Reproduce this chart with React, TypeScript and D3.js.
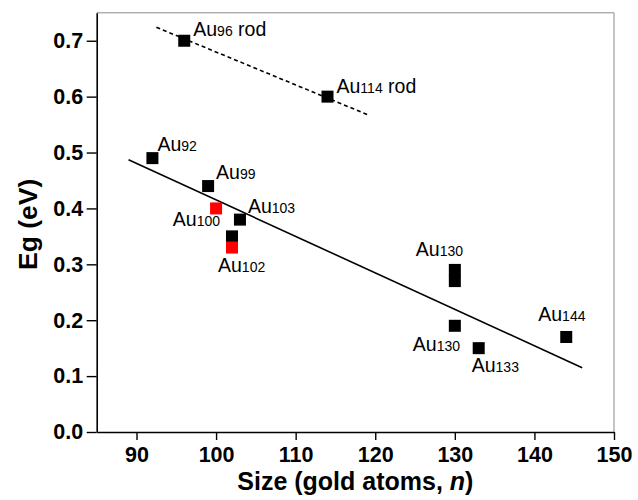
import * as d3 from 'd3';
import React, { useEffect, useRef } from 'react';

// measured points: [size n, Eg eV]
const rodPoints = [
  [96, 0.7],
  [114, 0.6],
];
const blackPoints = [
  [92, 0.49],
  [99, 0.44],
  [103, 0.38],
  [102, 0.35],
  [130, 0.29],
  [130, 0.27],
  [130, 0.19],
  [133, 0.15],
  [144, 0.17],
];
const redPoints = [
  [100, 0.4],
  [102, 0.33],
];

// linear fits (end points in data units)
const fitSolid = [
  [89, 0.487],
  [146, 0.115],
];
const fitDashed = [
  [92.5, 0.724],
  [119, 0.568],
];

const xTicks = [90, 100, 110, 120, 130, 140, 150];
const xMinor = [85, 95, 105, 115, 125, 135, 145];
const yTicks = [0, 0.1, 0.2, 0.3, 0.4, 0.5, 0.6, 0.7];
const yMinor = [0.05, 0.15, 0.25, 0.35, 0.45, 0.55, 0.65, 0.75];

// label: base, subscript, suffix, anchor point, pixel offset, anchor
const labels: any[] = [
  { base: 'Au', sub: '96', tail: ' rod', at: [96, 0.7], dx: 9, dy: -5, anchor: 'start' },
  { base: 'Au', sub: '114', tail: ' rod', at: [114, 0.6], dx: 9, dy: -4, anchor: 'start' },
  { base: 'Au', sub: '92', tail: '', at: [92, 0.49], dx: 5, dy: -7, anchor: 'start' },
  { base: 'Au', sub: '99', tail: '', at: [99, 0.44], dx: 8, dy: -7, anchor: 'start' },
  { base: 'Au', sub: '103', tail: '', at: [103, 0.38], dx: 8, dy: -7, anchor: 'start' },
  { base: 'Au', sub: '100', tail: '', at: [100, 0.4], dx: 4, dy: 18, anchor: 'end' },
  { base: 'Au', sub: '102', tail: '', at: [102, 0.33], dx: -14, dy: 24, anchor: 'start' },
  { base: 'Au', sub: '130', tail: '', at: [130, 0.29], dx: -39, dy: -14, anchor: 'start' },
  { base: 'Au', sub: '130', tail: '', at: [130, 0.19], dx: -42, dy: 25, anchor: 'start' },
  { base: 'Au', sub: '133', tail: '', at: [133, 0.15], dx: -7, dy: 23.5, anchor: 'start' },
  { base: 'Au', sub: '144', tail: '', at: [144, 0.17], dx: -28, dy: -16, anchor: 'start' },
];

const FONT = "Arial, 'Liberation Sans', Helvetica, sans-serif";

function App() {
  const node = useRef<SVGSVGElement>(null);

  useEffect(() => {
    const width = 638;
    const height = 500;
    const left = 96.7;
    const right = 614;
    const top = 12.8;
    const bottom = 432;
    const markerSize = 12;

    const x = d3.scaleLinear().domain([85, 150]).range([left, right]);
    const y = d3.scaleLinear().domain([0, 0.75]).range([bottom, top]);

    const svg = d3.select(node.current);
    svg.selectAll('*').remove();
    svg.attr('width', width).attr('height', height);

    svg
      .append('rect')
      .attr('width', width)
      .attr('height', height)
      .attr('fill', '#fff');

    // top / right frame (gray)
    svg
      .append('path')
      .attr('d', `M${left},${top}H${right}V${bottom}`)
      .attr('fill', 'none')
      .attr('stroke', '#8a8a8a')
      .attr('stroke-width', 1);

    // minor ticks
    const xAxisMinor = d3
      .axisBottom(x)
      .tickValues(xMinor)
      .tickSize(4)
      .tickFormat(() => '');
    const yAxisMinor = d3
      .axisLeft(y)
      .tickValues(yMinor)
      .tickSize(5)
      .tickFormat(() => '');

    const xAxis = d3
      .axisBottom(x)
      .tickValues(xTicks)
      .tickSize(8)
      .tickSizeOuter(0)
      .tickPadding(6.5)
      .tickFormat(d3.format('d'));
    const yAxis = d3
      .axisLeft(y)
      .tickValues(yTicks)
      .tickSize(10)
      .tickSizeOuter(0)
      .tickPadding(3.5)
      .tickFormat(d3.format('.1f'));

    const gx = svg.append('g').attr('transform', `translate(0,${bottom})`);
    gx.call(xAxisMinor);
    gx.call(xAxis);
    const gy = svg.append('g').attr('transform', `translate(${left},0)`);
    gy.call(yAxisMinor);
    gy.call(yAxis);

    [gx, gy].forEach((g) => {
      g.selectAll('.domain').attr('stroke', '#000').attr('stroke-width', 1.6);
      g.selectAll('.tick line').attr('stroke', '#000').attr('stroke-width', 1.4);
      g.selectAll('.tick text')
        .attr('fill', '#000')
        .style('font-family', FONT)
        .style('font-size', '21.5px')
        .style('font-weight', 'bold');
    });

    // axis titles
    const xt = svg
      .append('text')
      .attr('x', (left + right) / 2)
      .attr('y', 489.5)
      .attr('text-anchor', 'middle')
      .style('font-family', FONT)
      .style('font-size', '25px')
      .style('font-weight', 'bold');
    xt.append('tspan').text('Size (gold atoms, ');
    xt.append('tspan').style('font-style', 'italic').text('n');
    xt.append('tspan').text(')');

    svg
      .append('text')
      .attr('transform', `translate(37,${(top + bottom) / 2 + 2}) rotate(-90)`)
      .attr('text-anchor', 'middle')
      .style('font-family', FONT)
      .style('font-size', '26.5px')
      .style('font-weight', 'bold')
      .text('Eg (eV)');

    // fit lines
    const line = d3
      .line()
      .x((d: any) => x(d[0]))
      .y((d: any) => y(d[1]));

    svg
      .append('path')
      .attr('d', line(fitSolid as any))
      .attr('fill', 'none')
      .attr('stroke', '#000')
      .attr('stroke-width', 1.6);

    svg
      .append('path')
      .attr('d', line(fitDashed as any))
      .attr('fill', 'none')
      .attr('stroke', '#000')
      .attr('stroke-width', 1.6)
      .attr('stroke-dasharray', '4,3');

    // markers
    const drawSquares = (data: number[][], color: string) => {
      svg
        .append('g')
        .selectAll('rect')
        .data(data)
        .enter()
        .append('rect')
        .attr('x', (d) => x(d[0]) - markerSize / 2)
        .attr('y', (d) => y(d[1]) - markerSize / 2)
        .attr('width', markerSize)
        .attr('height', markerSize)
        .attr('fill', color);
    };
    drawSquares(rodPoints, '#000');
    drawSquares(blackPoints, '#000');
    drawSquares(redPoints, '#ff0000');

    // labels
    labels.forEach((l) => {
      const t = svg
        .append('text')
        .attr('x', x(l.at[0]) + l.dx)
        .attr('y', y(l.at[1]) + l.dy)
        .attr('text-anchor', l.anchor)
        .style('font-family', FONT)
        .style('font-size', '19.5px')
        .attr('fill', '#000');
      t.append('tspan').text(l.base);
      t.append('tspan').style('font-size', '14px').text(l.sub);
      if (l.tail) t.append('tspan').text(l.tail);
    });
  }, []);

  return (
    <svg
      ref={node}
      style={{ position: 'absolute', left: 0, top: 0, display: 'block' }}
    />
  );
}

export default App;
